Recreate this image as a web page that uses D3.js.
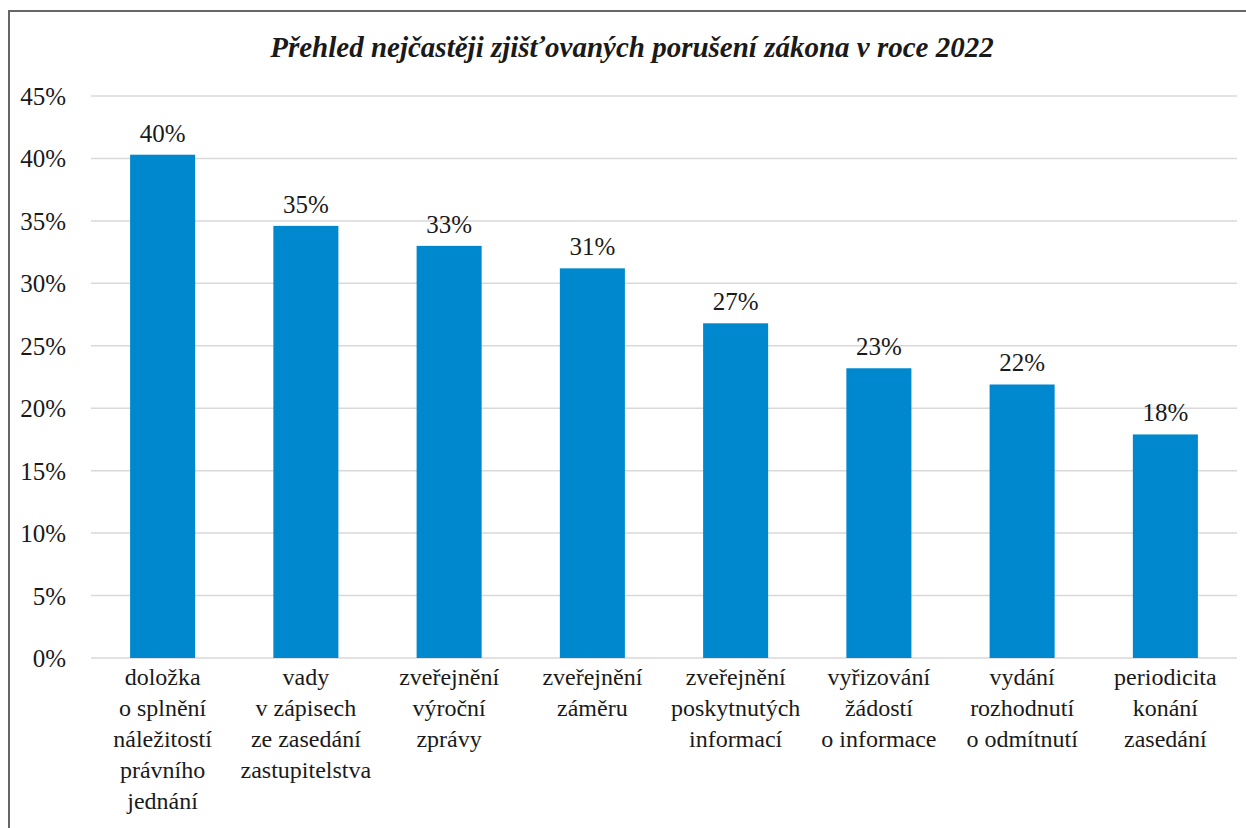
<!DOCTYPE html>
<html>
<head>
<meta charset="utf-8">
<script src="https://cdn.jsdelivr.net/npm/d3@7"></script>
</head>
<body style="margin:0">
<svg width="1246" height="828" font-family="Liberation Serif"></svg>
<script>
var svg = d3.select("svg"),
  width = +svg.attr("width"),
  height = +svg.attr("height");

// Data
var categories = [
  ["doložka", "o splnění", "náležitostí", "právního", "jednání"],
  ["vady", "v zápisech", "ze zasedání", "zastupitelstva"],
  ["zveřejnění", "výroční", "zprávy"],
  ["zveřejnění", "záměru"],
  ["zveřejnění", "poskytnutých", "informací"],
  ["vyřizování", "žádostí", "o informace"],
  ["vydání", "rozhodnutí", "o odmítnutí"],
  ["periodicita", "konání", "zasedání"]
];
var values = [40.3, 34.6, 33.0, 31.2, 26.8, 23.2, 21.9, 17.9];
var yTicks = [0, 5, 10, 15, 20, 25, 30, 35, 40, 45];
var title = "Přehled nejčastěji zjišťovaných porušení zákona v roce 2022";

var serif = "Liberation Serif";
var plotLeft = 91, plotRight = 1237, plotTop = 96, plotBottom = 658;

// frame
svg.append("rect")
  .attr("x", 9).attr("y", 11)
  .attr("width", width + 20).attr("height", height + 20)
  .attr("fill", "none").attr("stroke", "#666").attr("stroke-width", 2);

var x = d3.scaleBand()
  .domain(d3.range(values.length))
  .range([plotLeft, plotRight])
  .paddingInner(0.546)
  .paddingOuter(0.273);

var y = d3.scaleLinear()
  .domain([0, 45])
  .range([plotBottom, plotTop]);

// gridlines
svg.append("g").selectAll("line")
  .data(yTicks)
  .enter().append("line")
    .attr("x1", plotLeft).attr("x2", plotRight)
    .attr("y1", d => y(d)).attr("y2", d => y(d))
    .attr("stroke", "#d9d9d9").attr("stroke-width", 1.5);

// y labels
svg.append("g").selectAll("text")
  .data(yTicks)
  .enter().append("text")
    .attr("x", 66).attr("y", d => y(d))
    .attr("dy", "0.36em")
    .attr("text-anchor", "end")
    .attr("font-family", serif)
    .attr("font-size", 25)
    .attr("fill", "#1a1a1a")
    .text(d => d + "%");

// bars
svg.append("g").selectAll("rect")
  .data(values)
  .enter().append("rect")
    .attr("x", (d, i) => x(i))
    .attr("width", x.bandwidth())
    .attr("y", d => y(d))
    .attr("height", d => y(0) - y(d))
    .attr("fill", "#0088cf");

// value labels
svg.append("g").selectAll("text")
  .data(values)
  .enter().append("text")
    .attr("x", (d, i) => x(i) + x.bandwidth() / 2)
    .attr("y", d => y(d) - 13)
    .attr("text-anchor", "middle")
    .attr("font-family", serif)
    .attr("font-size", 25)
    .attr("fill", "#1a1a1a")
    .text(d => Math.round(d) + "%");

// category labels
var cat = svg.append("g").selectAll("text")
  .data(categories)
  .enter().append("text")
    .attr("text-anchor", "middle")
    .attr("font-family", serif)
    .attr("font-size", 24)
    .attr("fill", "#1a1a1a");
cat.each(function(lines, i) {
  var t = d3.select(this);
  lines.forEach(function(l, j) {
    t.append("tspan")
      .attr("x", x(i) + x.bandwidth() / 2)
      .attr("y", 685 + j * 31)
      .text(l);
  });
});

// title
svg.append("text")
  .attr("x", 632).attr("y", 57)
  .attr("text-anchor", "middle")
  .attr("font-family", serif)
  .attr("font-size", 29)
  .attr("font-weight", "bold")
  .attr("font-style", "italic")
  .attr("fill", "#1a1a1a")
  .text(title);
</script>
</body>
</html>
